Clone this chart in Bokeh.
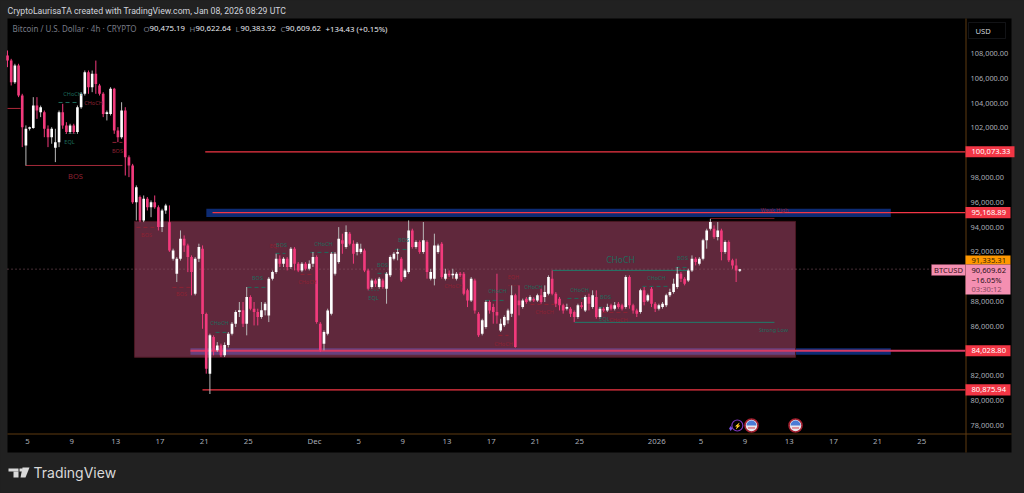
from bokeh.plotting import figure
from bokeh.embed import file_html
from bokeh.resources import INLINE
from bokeh.core.properties import value
from bokeh.models import (BoxAnnotation, Label, PolyAnnotation, FixedTicker, NumeralTickFormatter,
                          GlobalInlineStyleSheet, ColumnDataSource)
import numpy as np

# ---- OHLC (thousands of USD), one candle every 8 hours ----
opens_k = [107.83,107.43,105.69,107.03,104.61,100.58,101.93,102.0,103.81,103.27,
103.27,101.93,101.25,100.4,100.85,103.27,102.2,101.66,102.2,101.66,
103.67,104.75,106.49,105.28,106.36,105.42,104.75,103.13,103.13,105.15,
101.79,101.25,103.4,99.64,98.97,96.01,96.42,94.54,96.28,95.61,
96.01,95.61,94.0,95.34,94.4,91.45,90.24,91.45,93.06,92.52,
91.58,88.63,91.45,92.26,87.0,82.18,85.14,84.06,84.46,83.66,
84.5,85.4,86.21,87.15,87.29,86.21,88.36,87.42,87.15,86.75,
87.29,86.88,89.84,90.37,91.45,91.05,91.45,90.78,92.26,91.05,
90.51,91.05,90.64,91.05,91.58,86.21,84.6,85.4,87.02,90.24,
91.18,92.93,92.39,93.47,92.66,91.99,91.99,92.12,90.51,89.17,
89.7,89.17,89.7,89.03,90.11,91.45,91.85,91.45,89.97,90.38,
93.73,92.39,92.79,91.99,92.79,89.84,89.84,91.99,92.66,89.84,
90.24,90.11,89.84,90.24,90.24,88.9,88.09,89.7,87.02,85.4,
85.94,87.96,87.55,87.15,85.67,86.08,86.48,87.02,88.5,88.09,
87.55,88.23,88.09,88.23,88.09,88.5,88.36,88.63,89.84,88.63,
88.23,87.69,87.42,87.42,87.15,86.75,87.69,87.28,88.36,87.55,
88.36,86.75,87.42,87.28,87.69,87.42,87.82,87.69,87.55,89.97,
87.69,87.28,87.15,88.9,88.09,89.03,87.82,87.42,87.55,87.69,
88.5,88.76,89.17,90.24,89.84,89.7,90.51,91.45,91.05,91.45,
92.93,93.87,93.87,93.2,93.73,91.99,92.79,91.32,90.91,90.475]
closes_k = [107.43,105.69,107.03,104.61,102.06,101.93,102.06,103.81,103.4,103.67,
101.93,101.25,101.93,100.85,103.27,102.2,101.66,102.2,101.66,103.67,
104.75,106.49,105.28,106.36,105.55,104.75,103.13,103.27,105.15,101.79,
101.25,103.4,99.64,98.97,96.01,97.22,94.54,96.28,95.61,96.01,
95.61,94.0,95.34,95.75,92.12,92.12,91.45,93.06,92.52,91.58,
90.37,91.45,92.39,87.0,82.58,85.27,84.06,84.46,83.66,84.5,
85.4,86.21,87.15,87.29,86.21,88.36,87.42,87.15,86.75,87.29,
87.82,89.84,90.37,91.45,91.05,91.45,90.78,92.26,91.05,90.51,
91.05,90.64,91.05,91.58,86.34,84.06,85.54,87.28,91.85,91.85,
93.06,92.66,93.6,92.66,91.85,92.66,92.26,90.51,89.03,89.7,
89.43,89.84,89.17,90.24,91.58,91.85,91.99,89.7,90.51,93.73,
92.39,92.79,91.99,92.93,90.38,90.38,92.52,92.52,89.97,90.24,
90.11,90.24,90.24,90.11,88.63,88.09,89.84,87.28,85.27,86.48,
87.96,87.28,87.15,86.88,86.21,86.75,87.28,88.5,84.33,87.69,
88.09,87.96,88.36,88.09,88.5,87.96,88.76,89.97,88.63,87.82,
87.69,87.28,87.55,87.02,86.75,87.69,87.55,88.36,87.82,88.5,
86.75,87.42,87.28,87.55,87.42,87.69,87.55,87.42,89.97,87.69,
87.28,87.02,88.9,87.96,88.5,87.82,87.42,87.69,87.82,88.5,
88.76,89.43,90.24,89.84,89.43,90.51,91.45,91.18,91.45,92.93,
93.73,94.41,93.2,93.73,91.99,92.79,91.32,90.91,90.51,90.61]
highs_k = [108.24,107.57,107.17,107.17,104.75,102.2,102.1,104.48,104.48,103.8,
103.4,102.2,102.06,101.93,103.4,103.94,102.46,102.33,102.33,103.81,
104.88,106.63,106.63,106.63,107.43,105.55,104.88,103.4,105.28,105.23,
102.06,104.07,103.67,99.78,99.1,97.36,96.55,96.55,96.42,96.15,
96.55,95.75,95.48,95.88,95.75,92.26,91.58,93.73,93.33,92.66,
91.72,91.58,92.66,92.52,87.1,85.4,85.27,84.73,84.6,84.7,
85.54,86.34,87.29,87.96,87.96,89.17,88.5,87.96,87.42,87.96,
87.96,89.97,90.5,91.85,91.72,91.58,91.58,92.39,92.39,91.18,
91.18,91.18,91.32,91.99,91.72,86.34,85.67,87.42,91.99,91.99,
94.0,93.47,94.14,93.6,92.93,92.79,92.66,92.26,90.64,89.84,
89.84,89.97,89.84,90.38,91.72,91.99,92.26,91.58,90.64,94.54,
93.87,92.93,92.93,94.41,92.93,90.64,93.47,92.66,92.79,90.64,
90.51,90.64,90.38,90.38,90.38,89.03,89.97,89.84,87.15,86.61,
88.09,88.09,87.82,90.24,86.61,86.88,87.42,89.3,88.63,89.3,
88.23,88.36,88.5,88.36,88.63,89.03,89.3,90.11,90.51,88.76,
88.36,87.82,87.82,87.55,87.28,87.82,87.96,88.5,88.63,88.9,
88.9,87.55,87.55,87.82,87.82,87.96,87.96,87.82,90.11,90.11,
87.82,87.42,89.03,89.17,88.63,89.17,87.96,87.82,87.96,88.63,
89.03,89.84,90.78,90.38,89.97,90.64,91.72,91.58,91.58,93.06,
93.87,94.67,94.14,94.41,93.87,92.93,92.93,91.45,91.45,90.62]
lows_k = [106.9,105.42,105.55,104.48,100.45,98.97,101.79,101.93,102.73,102.87,
101.25,100.45,100.72,99.24,100.45,101.93,101.52,101.52,101.52,101.52,
103.54,104.61,104.75,104.88,104.75,104.61,102.87,102.6,103.0,101.52,
100.85,101.12,98.16,98.03,95.88,94.54,94.4,94.4,95.34,94.8,
95.48,93.73,93.6,95.07,92.0,91.3,89.57,91.3,92.0,90.37,
88.5,88.5,91.18,85.8,82.18,80.54,83.66,83.93,83.52,83.52,
84.3,85.27,85.94,86.75,85.94,85.27,87.29,86.07,86.07,86.61,
86.88,86.34,89.7,90.24,90.78,90.78,90.51,90.64,90.51,90.37,
90.37,90.51,90.51,90.78,86.21,83.93,84.06,85.27,86.88,90.1,
91.05,91.85,92.26,92.52,91.05,91.72,91.85,90.37,88.9,89.03,
89.17,89.03,89.03,87.82,89.97,91.32,91.32,89.57,89.84,90.24,
92.26,92.26,91.85,91.85,89.84,89.7,89.3,91.85,89.84,89.7,
89.97,89.84,89.7,89.97,88.5,87.55,87.96,87.02,85.14,85.27,
85.81,87.02,86.21,86.21,85.54,85.94,86.21,86.75,84.27,86.88,
87.42,87.82,87.96,87.96,87.96,87.82,87.96,88.5,88.5,87.55,
87.28,87.02,87.28,86.75,86.34,86.61,87.42,87.15,87.28,87.42,
86.61,86.61,87.15,87.15,87.28,87.28,87.42,87.28,87.42,87.42,
87.02,86.75,87.02,87.69,87.96,87.55,87.15,87.28,87.42,87.55,
88.36,88.63,89.03,89.57,89.3,89.57,90.38,90.91,90.91,91.32,
92.26,93.73,93.06,92.93,91.32,91.85,91.18,90.64,89.57,90.38]

# ---- time axis (days after Nov 5) ----
first_bar_day = -1.81
bar_days = 1 / 3
tick_days = [0, 4, 8, 12, 16, 20, 26, 30, 34, 38, 42, 46, 50, 57, 61, 65, 69, 73, 77, 81]
tick_labels = ["5", "9", "13", "17", "21", "25", "Dec", "5", "9", "13", "17", "21", "25",
               "2026", "5", "9", "13", "17", "21", "25"]
price_ticks = list(range(78000, 110000, 2000))

# ---- key levels ----
level_prices = [100073.33, 95168.89, 84028.80, 80875.94]
level_labels = ["100,073.33", "95,168.89", "84,028.80", "80,875.94"]
level_start_days = [16.1, 16.76, 14.76, 15.85]
axis_day = 84.96
last_price = 90609.62
band_prices = [(95470, 94820), (84220, 83700)]
band_days = [(16.2, 78.2), (14.76, 78.2)]
zone = dict(left=9.69, right=69.57, top=94460, bottom=83500)

# ---- structure labels: text, day, price (k), colour kind ----
GREEN, RED = "#1d6b5c", "#8e2233"
smc_labels = [
 ("CHoCH",4.08,104.70,GREEN),("CHoCH",5.98,103.97,RED),("EQL",3.80,100.83,GREEN),("BOS",8.15,100.10,RED),
 ("BOS",10.78,93.33,RED),("BOS",13.95,88.58,RED),("CHoCH",17.39,86.24,GREEN),("BOS",20.83,89.87,GREEN),
 ("EQH",22.46,92.44,RED),("BOS",23.01,92.52,GREEN),("CHoCH",25.36,89.54,RED),("CHoCH",26.81,92.60,GREEN),
 ("EQL",31.34,88.25,GREEN),("BOS",32.16,90.91,GREEN),("BOS",34.06,92.93,GREEN),("CHoCH",38.59,89.22,RED),
 ("EQH",44.02,89.95,RED),("CHoCH",42.57,88.82,GREEN),("CHoCH",45.83,89.14,GREEN),("CHoCH",46.83,87.12,RED),
 ("CHoCH",43.12,84.55,RED),("CHoCH",50.0,88.90,GREEN),("BOS",52.36,88.33,GREEN),("EQL",52.26,86.56,GREEN),
 ("CHoCH",53.53,86.48,RED),("CHoCH",56.97,89.87,GREEN),("BOS",59.33,91.48,GREEN),
 ("Weak High",67.66,95.35,RED),("Strong Low",67.57,85.67,GREEN)]
big_labels = [("BOS",4.35,98.09,RED,"7.5px"),("CHoCH",53.71,91.40,GREEN,"8.5px")]
dashed = [
 (2.81,4.62,104.05,GREEN),(7.70,8.60,100.83,RED),(9.87,11.59,93.98,RED),(13.13,14.76,89.14,RED),
 (17.03,18.12,85.51,GREEN),(19.93,21.56,89.14,GREEN),(22.46,23.37,91.88,GREEN),(24.73,25.82,90.19,RED),
 (25.63,27.72,91.96,GREEN),(31.70,32.61,90.27,GREEN),(33.33,34.42,92.2,GREEN),(37.86,39.49,89.87,RED),
 (41.49,43.30,88.09,GREEN),(42.66,43.57,85.27,RED),(45.11,46.29,88.25,GREEN),(45.56,48.01,87.77,RED),
 (48.91,50.82,88.25,GREEN),(51.72,52.99,87.53,GREEN),(52.08,54.44,87.12,RED),(55.71,58.24,89.22,GREEN),
 (58.70,59.78,90.75,GREEN)]
dotted = [(3.44,4.35,101.55,GREEN),(30.89,31.79,88.90,GREEN),(43.57,44.47,89.30,RED)]
solid = [(-0.18,8.60,98.97,"#a32a3a"),(-1.81,-0.63,103.57,"#b02a3a"),(47.55,59.78,90.51,"#1f7d6c"),
         (49.55,67.66,86.32,"#1f7d6c"),(61.87,67.66,94.70,"#7d1a22")]
event_days = [65.58, 69.57]
event_price = 78000

# ---- figure: the frame covers the page, the axes sit inside it through negative standoffs ----
W, H = 1024, 493
FONT = "Noto Sans"
p = figure(width=W, height=H, output_backend="svg", toolbar_location=None,
           x_range=(-2.446, 90.22), y_range=(72597, 112274),
           y_axis_location="right", min_border_left=0, min_border_right=1,
           min_border_top=0, min_border_bottom=1,
           background_fill_color="#212121", border_fill_color="#212121", outline_line_color=None)
p.stylesheets = [GlobalInlineStyleSheet(css="html,body{margin:0;padding:0;background:#212121;overflow:hidden}")]
p.grid.visible = False

# black panel under everything
p.add_layout(BoxAnnotation(left=7, right=1011, top=18, bottom=452, left_units="canvas", right_units="canvas",
                           top_units="canvas", bottom_units="canvas", fill_color="#000000", fill_alpha=1,
                           line_color=None, level="underlay"))

for ax, ticks in ((p.yaxis[0], price_ticks), (p.xaxis[0], tick_days)):
    ax.ticker = FixedTicker(ticks=ticks)
    ax.major_tick_line_color = None
    ax.minor_tick_line_color = None
    ax.axis_line_color = None
    ax.major_label_text_color = "#a9adb6"
    ax.major_label_text_font = FONT
    ax.major_label_text_font_size = "7.4px"
p.xaxis[0].major_label_text_font_size = "7.8px"
p.yaxis[0].formatter = NumeralTickFormatter(format="0,0.00")
p.yaxis[0].major_label_standoff = -59
p.xaxis[0].major_label_overrides = dict(zip(tick_days, tick_labels))
p.xaxis[0].major_label_standoff = -63

# bands, zone
for (top, bot), (l, r) in zip(band_prices, band_days):
    p.quad(left=l, right=r, top=top, bottom=bot, fill_color="#0d2b73", line_color=None)
p.quad(left=zone["left"], right=zone["right"], top=zone["top"], bottom=zone["bottom"],
       fill_color="#e45f8f", fill_alpha=0.42, line_color="#4a1822", line_width=1)

# last price dotted line
p.line([-1.81, axis_day], [last_price, last_price], line_color="#8a5a68", line_width=1, line_dash="1 3")

# key levels
for i, (price, d0) in enumerate(zip(level_prices, level_start_days)):
    thick = i == 2
    p.line([d0, axis_day], [price, price], line_color="#d63a62" if thick else "#f23645",
           line_width=2 if thick else 1.2)

# structure lines
for x0, x1, y, c in solid:
    p.line([x0, x1], [y * 1000, y * 1000], line_color=c, line_width=1)
for x0, x1, y, c in dashed:
    p.line([x0, x1], [y * 1000, y * 1000], line_color=c, line_width=1, line_dash="4 3")
for x0, x1, y, c in dotted:
    p.line([x0, x1], [y * 1000, y * 1000], line_color=c, line_width=1, line_dash="1 2")

# candles
o, h, l, c = (np.array(a) * 1000 for a in (opens_k, highs_k, lows_k, closes_k))
x = first_bar_day + np.arange(len(o)) * bar_days
up = c >= o
for mask, body, wick in ((~up, "#f23a7c", "#f23a7c"), (up, "#ffffff", "#b9b9b9")):
    s = ColumnDataSource(dict(x=x[mask], o=o[mask], c=c[mask], h=h[mask], l=l[mask]))
    p.segment("x", "h", "x", "l", source=s, line_color=wick, line_width=1)
    p.vbar("x", 0.24, "o", "c", source=s, fill_color=body, line_color=None)

# structure labels
for t, d, y, col in smc_labels:
    p.text([d], [y * 1000], text=[t], text_color=col, text_font=value(FONT), text_font_size="5.5px",
           text_align="center", text_baseline="middle")
for t, d, y, col, size in big_labels:
    p.text([d], [y * 1000], text=[t], text_color=col, text_font=value(FONT), text_font_size=size,
           text_align="center", text_baseline="middle")

# event icons
p.scatter([64.3], [event_price], size=11, marker="circle", fill_color=None, line_color="#7b35b8", line_width=1.2)
p.scatter([63.7], [event_price - 250], size=5, marker="diamond", fill_color="#7b52e8", line_color=None)
p.text([64.3], [event_price], text=["⚡"], text_color="#8b3fd0", text_font_size="6px",
       text_align="center", text_baseline="middle")
p.scatter(event_days, [event_price] * 2, size=13, marker="circle", fill_color="#e9e6ee",
          line_color="#a3202f", line_width=1.6)
p.wedge(event_days, [event_price] * 2, radius=5, radius_units="screen", start_angle=0, end_angle=3.14159,
        fill_color="#4a7bd5", line_color=None)
p.scatter(event_days, [event_price - 200] * 2, size=7, marker="dash", line_color="#d4404e", line_width=1)

# chrome helpers
def cbox(l_, r_, t_, b_, fill, line=None):
    p.add_layout(BoxAnnotation(left=l_, right=r_, top=t_, bottom=b_, left_units="canvas", right_units="canvas",
                               top_units="canvas", bottom_units="canvas", fill_color=fill, fill_alpha=1,
                               line_color=line, line_width=1))
def ctext(x_, y_, t, color="#d1d4dc", size="7.6px", style="normal", align="left", font=FONT):
    p.add_layout(Label(x=x_, y=y_, x_units="canvas", y_units="canvas", text=t, text_color=color,
                       text_font=font, text_font_size=size, text_font_style=style,
                       text_align=align, text_baseline="middle"))

# axis rules
AX = "#5e3a10"
cbox(7, 1011, 433, 434, AX)
cbox(965, 966, 18, 452, AX)

# level tags
tag_right = [1014, 1010, 1010, 1010]
for price, lab, r_ in zip(level_prices, level_labels, tag_right):
    half = 450
    p.add_layout(BoxAnnotation(left=965, right=r_, top=price + half, bottom=price - half, left_units="canvas",
                               right_units="canvas", fill_color="#f23645", fill_alpha=1, line_color=None))
    p.add_layout(Label(x=971, y=price, x_units="canvas", y_units="data", text=lab, text_color="#ffffff",
                       text_font=FONT, text_font_size="7.6px", text_align="left", text_baseline="middle"))

# last price stack
cbox(965, 1010, 255, 264, "#ff9800")
ctext(971, 259.5, "91,335.31", "#3a2400")
cbox(965, 1010, 264, 294, "#f48fb1")
ctext(971, 269.5, "90,609.62", "#2a1018")
ctext(971, 279, "−16.05%", "#2a1018")
ctext(971, 288, "03:30:12", "#8a4a60")
cbox(931, 965, 264, 275, "#f48fb1", "#8a3a55")
ctext(948, 269.5, "BTCUSD", "#3a1420", "7.6px", align="center")

# USD button
cbox(968, 1005, 22, 38, "#000000", "#3c3f48")
ctext(975, 30, "USD", "#d1d4dc", "7.6px")

# header
ctext(7, 10, "CryptoLaurisaTA created with TradingView.com, Jan 08, 2026 08:29 UTC", "#d1d4dc", "8.7px", font="Roboto")
ctext(12, 28, "Bitcoin / U.S. Dollar · 4h · CRYPTO", "#787b86", "8px")
for xt, t, col in ((143, "O", "#787b86"), (149, "90,475.19", "#e8eaf0"), (189, "H", "#787b86"),
                   (195, "90,622.64", "#e8eaf0"), (235, "L", "#787b86"), (240, "90,383.92", "#e8eaf0"),
                   (280, "C", "#787b86"), (285, "90,609.62", "#e8eaf0"), (325, "+134.43 (+0.15%)", "#e8eaf0")):
    ctext(xt, 28, t, col, "7.8px")

# footer logo
LOGO = "#d9d9d9"
cbox(8, 18, 468, 471, LOGO)
cbox(13, 18, 471, 477, LOGO)
p.add_layout(PolyAnnotation(xs=[22, 29, 25, 20], ys=[467, 467, 477, 477], xs_units="canvas", ys_units="canvas",
                            fill_color=LOGO, fill_alpha=1, line_color=None))
cbox(19, 22, 468, 471, LOGO)
ctext(33, 472, "TradingView", LOGO, "14px", font="Inter")

open("out.html", "w").write(file_html(p, INLINE))
